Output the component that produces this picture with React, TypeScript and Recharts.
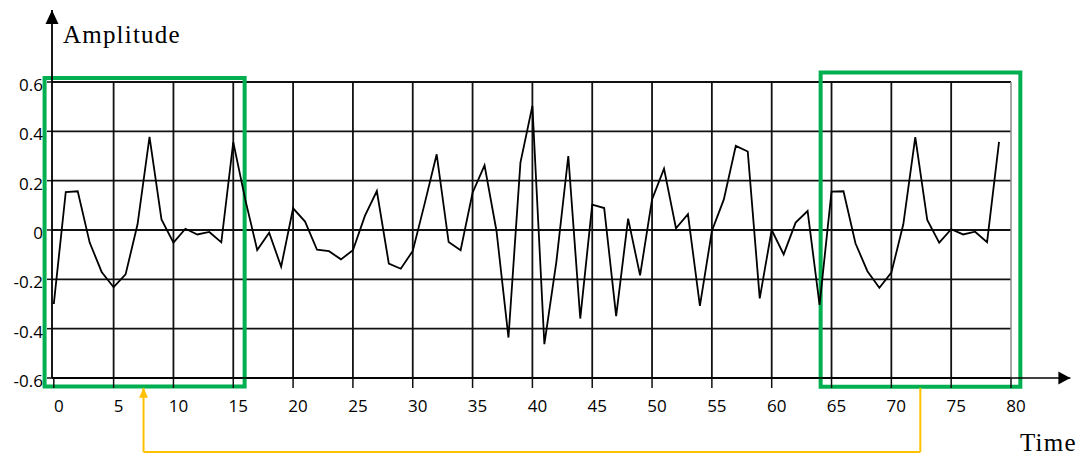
import React from 'react';
import { LineChart, Line, XAxis, YAxis, CartesianGrid, ReferenceLine, ReferenceArea } from 'recharts';

// amplitude at each time step 0..79
const amplitude = [
  -0.3, 0.154, 0.157, -0.051, -0.17, -0.232, -0.18, 0.023, 0.378, 0.043,
  -0.051, 0.005, -0.018, -0.008, -0.05, 0.356, 0.124, -0.081, -0.011, -0.149,
  0.088, 0.034, -0.08, -0.086, -0.119, -0.082, 0.057, 0.158, -0.136, -0.157,
  -0.085, 0.108, 0.307, -0.049, -0.082, 0.151, 0.262, -0.004, -0.436, 0.273,
  0.503, -0.463, -0.13, 0.3, -0.359, 0.103, 0.089, -0.349, 0.046, -0.184,
  0.124, 0.249, 0.007, 0.064, -0.308, -0.004, 0.124, 0.341, 0.318, -0.277,
  0.0, -0.099, 0.03, 0.077, -0.304, 0.156, 0.157, -0.054, -0.167, -0.234,
  -0.173, 0.023, 0.377, 0.041, -0.051, 0.003, -0.018, -0.007, -0.049, 0.357,
];
const xTicks = [0, 5, 10, 15, 20, 25, 30, 35, 40, 45, 50, 55, 60, 65, 70, 75, 80];
const yTicks = [-0.6, -0.4, -0.2, 0, 0.2, 0.4, 0.6];
const gridX = [5, 10, 15, 20, 25, 30, 35, 40, 45, 50, 55, 60, 65, 70, 75];
// highlighted windows [x1, x2, y1, y2]
const windows = [
  [-0.77, 15.95, -0.634, 0.616],
  [64.09, 80.78, -0.635, 0.639],
];
// connector between the two windows
const linkX = [7.5, 72.42];
const linkY = [-0.64, -0.9];

const data = amplitude.map((v, t) => ({ t, v }));

const font = '"Open Sans", "Noto Sans", sans-serif';

const arrowShape = (size: number, width: number, color: string, sw: number, atStart = false) => (p: any) => {
  const { x1, y1, x2, y2 } = p;
  const tx = atStart ? x1 : x2;
  const ty = atStart ? y1 : y2;
  const fx = atStart ? x2 : x1;
  const fy = atStart ? y2 : y1;
  const len = Math.hypot(tx - fx, ty - fy) || 1;
  const ux = (tx - fx) / len;
  const uy = (ty - fy) / len;
  const bx = tx - ux * size;
  const by = ty - uy * size;
  const pts = `${tx},${ty} ${bx - uy * width / 2},${by + ux * width / 2} ${bx + uy * width / 2},${by - ux * width / 2}`;
  return (
    <g>
      <line x1={x1} y1={y1} x2={x2} y2={y2} stroke={color} strokeWidth={sw} />
      <polygon points={pts} fill={color} />
    </g>
  );
};

const XTick = (p: any) => (
  <text x={p.x + 5} y={p.y + 22} textAnchor="middle" fontFamily={font} fontSize={17} fill="#000">
    {p.payload.value}
  </text>
);

const YTick = (p: any) => (
  <text x={p.x - 2} y={p.y + 9} textAnchor="end" fontFamily={font} fontSize={17} fill="#000">
    {String(p.payload.value)}
  </text>
);

export default function App() {
  return (
    <div style={{ position: 'absolute', left: 0, top: 0, width: 1085, height: 462, background: '#fff' }}>
      <LineChart width={1085} height={462} data={data} margin={{ top: 82, right: 74, bottom: 54, left: 0 }}>
        <CartesianGrid vertical={false} stroke="#111" strokeWidth={1.8} />
        <XAxis
          type="number"
          dataKey="t"
          domain={[-0.15, 80]}
          ticks={xTicks}
          interval={0}
          allowDataOverflow
          axisLine={false}
          tickSize={10}
          tickLine={{ stroke: '#111', strokeWidth: 1.5 }}
          tick={<XTick />}
          height={30}
        />
        <YAxis
          type="number"
          domain={[-0.6, 0.6]}
          ticks={yTicks}
          interval={0}
          axisLine={false}
          tickSize={5}
          tickLine={{ stroke: '#111', strokeWidth: 1.5 }}
          tick={<YTick />}
          width={52}
        />
        {gridX.map((x) => (
          <ReferenceLine key={x} segment={[{ x, y: -0.6 }, { x, y: 0.6 }]} stroke="#111" strokeWidth={1.8} />
        ))}
        <ReferenceLine segment={[{ x: 80, y: -0.6 }, { x: 80, y: 0.6 }]} stroke="#8a8a8a" strokeWidth={1.5} />
        <Line
          type="linear"
          dataKey="v"
          stroke="#000"
          strokeWidth={1.8}
          dot={false}
          isAnimationActive={false}
        />
        {/* axes with arrow heads */}
        <ReferenceLine
          segment={[{ x: -0.15, y: -0.6 }, { x: 84.96, y: -0.6 }]}
          ifOverflow="visible"
          shape={arrowShape(12, 13, '#000', 1.5)}
        />
        <ReferenceLine
          segment={[{ x: -0.15, y: -0.6 }, { x: -0.15, y: 0.892 }]}
          ifOverflow="visible"
          shape={arrowShape(14, 13, '#000', 1.8)}
        />
        {windows.map((w, i) => (
          <ReferenceArea
            key={i}
            x1={w[0]}
            x2={w[1]}
            y1={w[2]}
            y2={w[3]}
            ifOverflow="visible"
            fill="none"
            fillOpacity={0}
            stroke="#00b050"
            strokeWidth={4}
          />
        ))}
        <ReferenceLine
          segment={[{ x: linkX[0], y: linkY[1] }, { x: linkX[0], y: linkY[0] }]}
          ifOverflow="visible"
          shape={arrowShape(10, 9, '#ffc000', 2)}
        />
        <ReferenceLine
          segment={[{ x: linkX[0], y: linkY[1] }, { x: linkX[1], y: linkY[1] }]}
          ifOverflow="visible"
          stroke="#ffc000"
          strokeWidth={2}
        />
        <ReferenceLine
          segment={[{ x: linkX[1], y: linkY[1] }, { x: linkX[1], y: linkY[0] }]}
          ifOverflow="visible"
          stroke="#ffc000"
          strokeWidth={2}
        />
        <text x={63} y={43} fontFamily='"Liberation Serif", "Times New Roman", serif' fontSize={25} letterSpacing={1.2} fill="#000">
          Amplitude
        </text>
        <text x={1020} y={451} fontFamily='"Liberation Serif", "Times New Roman", serif' fontSize={25} letterSpacing={1.2} fill="#000">
          Time
        </text>
      </LineChart>
    </div>
  );
}
